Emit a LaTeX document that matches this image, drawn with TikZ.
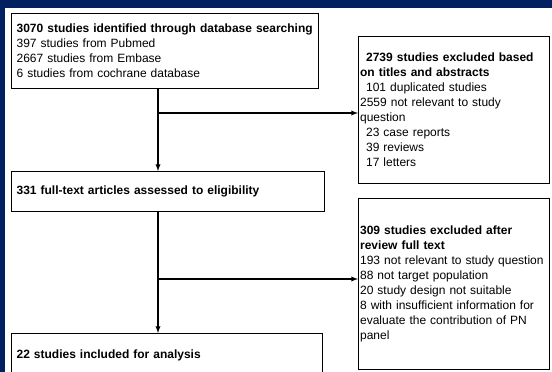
\documentclass[tikz,border=0pt]{standalone}
\usepackage{tikz}
\usepackage{fontspec}
\setmainfont{Liberation Sans}
\usetikzlibrary{arrows}
\definecolor{navy}{RGB}{0,32,96}
\newcommand{\ind}{\hspace*{6pt}}

\begin{document}
\begin{tikzpicture}[x=1pt,y=-1pt,>=latex,
	box/.style={draw,line width=1.3pt,fill=white,anchor=north west,align=left,inner xsep=5pt,inner ysep=0pt,font=\fontsize{12}{15}\selectfont},
	side/.style={box,inner xsep=1.5pt}]
	\useasboundingbox (0,0) rectangle (552,372);
	\fill[navy] (0,0) rectangle (552,372);
	\fill[white] (5,8) rectangle (552,372);
	\begin{scope}[line width=1.3pt]
		\node[box,minimum width=307pt,minimum height=75pt,text width=297pt] (found) at (11,13)
			{\textbf{3070 studies identified through database searching}\\397 studies from Pubmed\\2667 studies from Embase\\6 studies from cochrane database};
		\node[side,minimum width=191pt,minimum height=147pt,text width=188pt] (excl) at (358,36)
			{\ind\textbf{2739 studies excluded based}\\\textbf{on titles and abstracts}\\\ind 101 duplicated studies\\2559 not relevant to study\\question\\\ind 23 case reports\\\ind 39 reviews\\\ind 17 letters};
		\node[box,minimum width=313pt,minimum height=40pt,text width=303pt] (full) at (11,171)
			{\textbf{331 full-text articles assessed to eligibility}};
		\node[side,minimum width=191pt,minimum height=171pt,text width=188pt] (review) at (358,198)
			{\textbf{309 studies excluded after}\\\textbf{review full text}\\193 not relevant to study question\\88 not target population\\20 study design not suitable\\8 with insufficient information for\\evaluate the contribution of PN\\panel};
		\node[box,minimum width=311pt,minimum height=43pt,text width=301pt] (incl) at (11,333)
			{\textbf{22 studies included for analysis}};
		\coordinate (splitA) at (158,113);
		\coordinate (splitB) at (158,279);
		\draw[->] (found.south -| splitA) -- (full.north -| splitA);
		\draw[->] (splitA) -- (splitA -| excl.west);
		\draw[->] (full.south -| splitB) -- (incl.north -| splitB);
		\draw[->] (splitB) -- (splitB -| review.west);
	\end{scope}
\end{tikzpicture}
\end{document}
